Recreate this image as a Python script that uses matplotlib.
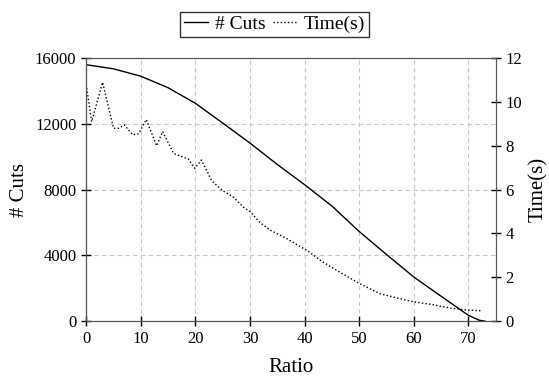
import matplotlib
matplotlib.use('Agg')
import matplotlib.pyplot as plt
from matplotlib.lines import Line2D

plt.rcParams['font.family'] = ['Liberation Serif', 'DejaVu Serif']

# data
cuts_x = [0, 5, 10, 15, 20, 25, 30, 35, 40, 45, 50, 55, 60, 65, 70, 72, 73]
cuts = [15600, 15350, 14900, 14200, 13250, 12050, 10830, 9530, 8300, 7000,
        5450, 4050, 2680, 1510, 350, 50, 0]

time_x = [0, 1, 3, 5, 6, 7, 8.5, 9.6, 11, 12.9, 14, 16, 18.7, 19.9, 21.1,
          23, 25, 27, 28.8, 30, 31.8, 33.7, 36.7, 38.5, 40.6, 43, 46, 50,
          53.7, 57, 60, 63.5, 67, 70, 72.5]
time_s = [10.8, 9.1, 10.9, 8.8, 8.8, 8.95, 8.5, 8.55, 9.2, 8.0, 8.65, 7.65,
          7.4, 6.97, 7.35, 6.4, 5.95, 5.65, 5.2, 5.0, 4.5, 4.15, 3.77, 3.5,
          3.2, 2.75, 2.3, 1.72, 1.26, 1.05, 0.88, 0.75, 0.58, 0.5, 0.47]

fig = plt.figure(figsize=(5.49, 3.80), dpi=100)
ax = fig.add_axes([0.157, 0.155, 0.746, 0.692])
ax2 = ax.twinx()

ax.plot(cuts_x, cuts, color='black', lw=1.0)
ax2.plot(time_x, time_s, color='black', lw=1.0, ls=(0, (1, 1.6)))

ax.set_xlim(0, 75)
ax.set_ylim(0, 16000)
ax2.set_ylim(0, 12)
ax.set_xticks(range(0, 71, 10))
ax.set_yticks(range(0, 16001, 4000))
ax2.set_yticks(range(0, 13, 2))

ax.grid(True, ls=(0, (4, 3)), color='#c8c8c8', lw=0.8)
ax.set_axisbelow(True)

for a in (ax, ax2):
    a.tick_params(direction='inout', length=7, width=1, labelsize=12)
    for s in a.spines.values():
        s.set_color('#555555')
ax.spines['left'].set_color('black')
ax.spines['top'].set_color('#888888')

ax.set_xlabel('Ratio', fontsize=15, labelpad=8)
ax.set_ylabel('# Cuts', fontsize=15, labelpad=4)
ax2.set_ylabel('Time(s)', fontsize=15, labelpad=5)

handles = [Line2D([], [], color='black', lw=1.0),
           Line2D([], [], color='black', lw=1.0, ls=(0, (1, 1.6)))]
leg = fig.legend(handles, ['# Cuts', 'Time(s)'], loc='upper center',
                 bbox_to_anchor=(0.5, 0.985), ncol=2, fontsize=14,
                 frameon=True, fancybox=False, edgecolor='black',
                 handlelength=1.25, handletextpad=0.35, columnspacing=0.4,
                 borderpad=0.2, borderaxespad=0.3)
leg.get_frame().set_linewidth(1.0)

fig.savefig('out.png', dpi=100)
